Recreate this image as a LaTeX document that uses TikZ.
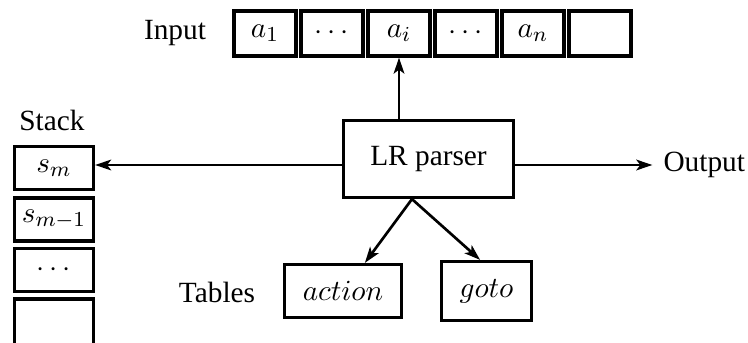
\documentclass[tikz,border=0pt]{standalone}
\usepackage{fontspec}
\setmainfont{Liberation Serif}
\usetikzlibrary{arrows.meta}
\begin{document}
\begin{tikzpicture}[x=0.375pt,y=-0.375pt,
  font=\fontsize{11}{13}\selectfont,
  box/.style={draw,line width=1.2pt,inner sep=0pt},
  incell/.style={box,minimum width=62*0.375pt,minimum height=45*0.375pt},
  stcell/.style={box,minimum width=79*0.375pt,minimum height=43*0.375pt},
  arr/.style={line width=1pt,-{Stealth[length=6pt,width=4pt,inset=1.5pt]}},
  lbl/.style={inner sep=0pt}
]
\clip (0,0) rectangle (748,342);
% input tape
\node[lbl] (inlbl) at (175,33) {Input};
\node[incell] (in1) at (265,33.5) {$a_1$};
\node[incell] (in2) at (332,33.5) {$\cdots$};
\node[incell] (in3) at (399,33.5) {$a_i$};
\node[incell] (in4) at (466,33.5) {$\cdots$};
\node[incell] (in5) at (533,33.5) {$a_n$};
\node[incell] (in6) at (600,33.5) {};
% stack
\node[lbl] (stlbl) at (52,120) {Stack};
\node[stcell] (s1) at (54,168) {$s_m$};
\node[stcell] (s2) at (54,219.5) {$s_{m-1}$};
\node[stcell] (s3) at (54,270) {$\cdots$};
\node[stcell,minimum height=60*0.375pt] (s4) at (54,329) {};
% parser
\node[box,minimum width=170*0.375pt,minimum height=77*0.375pt] (lr) at (428.5,159) {LR parser};
\node[lbl,anchor=west] (out) at (663,165) {Output};
% tables
\node[lbl] (tlbl) at (217,292) {Tables};
\node[box,minimum width=117*0.375pt,minimum height=53*0.375pt] (act) at (343,291) {$action$};
\node[box,minimum width=90*0.375pt,minimum height=59*0.375pt] (gto) at (486.5,291) {$goto$};
% connectors
\draw[arr] (in3.south |- lr.north) -- (in3.south);
\draw[arr] ([yshift=-2.25pt]lr.west) -- ([yshift=-2.25pt]lr.west -| s1.east);
\draw[arr] ([yshift=-2.25pt]lr.east) -- ([yshift=-2.25pt,xshift=-4pt]lr.east -| out.west);
\coordinate (fork) at ([xshift=-6.2pt]lr.south);
\draw[arr] (fork) -- ([xshift=8.2pt]act.north);
\draw[arr] (fork) -- ([xshift=-2.4pt]gto.north);
\end{tikzpicture}
\end{document}
